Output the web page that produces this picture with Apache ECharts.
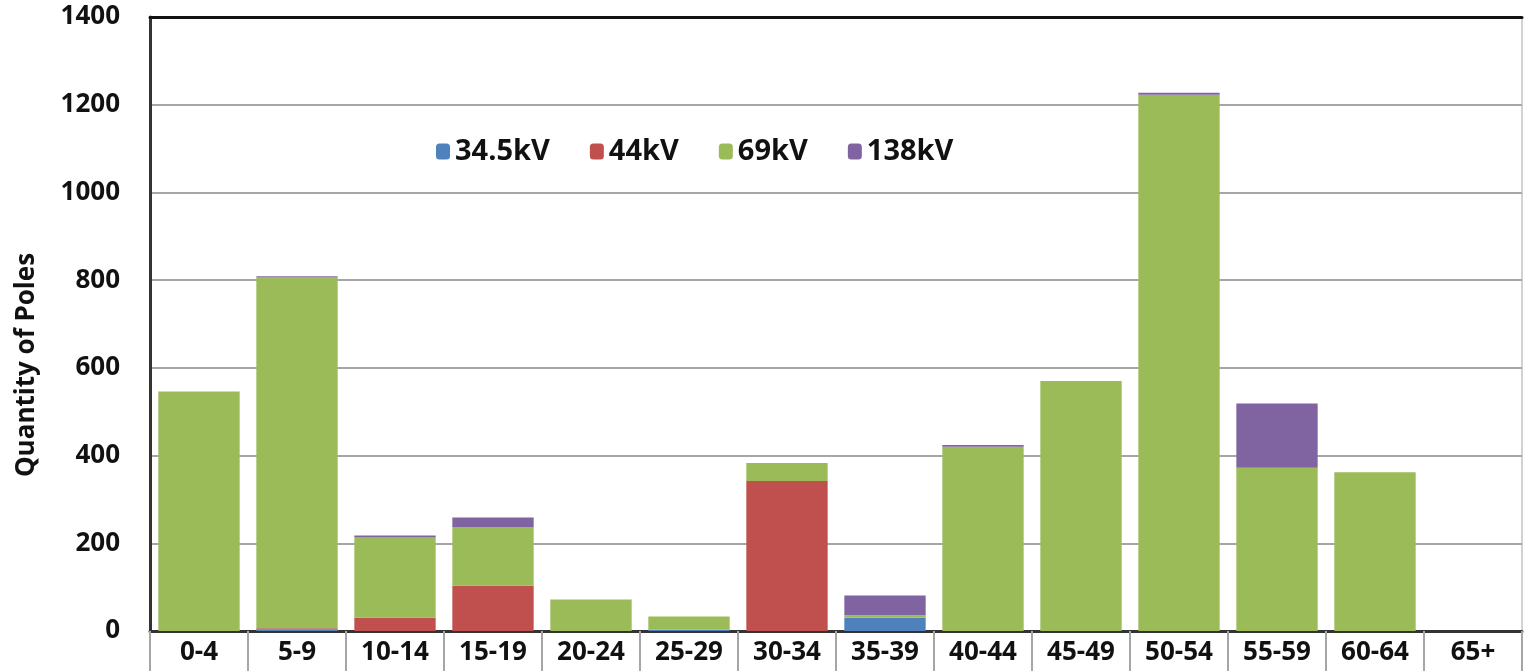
<!DOCTYPE html>
<html>
<head>
<meta charset="utf-8">
<script src="https://cdn.jsdelivr.net/npm/echarts@6/dist/echarts.min.js"></script>
<style>
    html, body { margin: 0; padding: 0; background: #fff; }
    #chart { width: 1524px; height: 671px; }
</style>
</head>
<body>
<div id="chart"></div>
<script>
// age bands (years)
const categories = ['0-4', '5-9', '10-14', '15-19', '20-24', '25-29', '30-34', '35-39', '40-44', '45-49', '50-54', '55-59', '60-64', '65+'];

// pole counts per voltage class
const kv345 = [0, 4, 0, 0, 0, 3, 0, 30, 0, 0, 0, 0, 0, 0];
const kv44 = [0, 2, 30, 103, 0, 0, 342, 0, 0, 0, 0, 0, 0, 0];
const kv69 = [546, 801, 183, 134, 72, 30, 41, 6, 420, 570, 1223, 372, 362, 0];
const kv138 = [0, 2, 5, 22, 0, 0, 0, 45, 4, 0, 4, 147, 0, 0];

const seriesNames = ['34.5kV', '44kV', '69kV', '138kV'];
const seriesColors = ['#4F81BD', '#C0504D', '#9BBB59', '#8064A2'];

const font = '"Open Sans", "Noto Sans", sans-serif';

const chart = echarts.init(document.getElementById('chart'), null, { renderer: 'canvas' });

function makeSeries(name, data, color) {
    return {
        name: name,
        type: 'bar',
        stack: 'total',
        data: data,
        barCategoryGap: '17%',
        itemStyle: { color: color }
    };
}

const options = {
    animation: false,
    backgroundColor: '#fff',
    grid: {
        left: 150,
        right: 2,
        top: 17,
        bottom: 40,
        show: true,
        borderColor: '#a6a6a6',
        borderWidth: 1
    },
    legend: {
        data: seriesNames,
        left: 431,
        top: 132,
        itemWidth: 14,
        itemHeight: 16,
        itemGap: 40,
        textStyle: {
            fontFamily: font,
            fontWeight: 'bold',
            fontSize: 29,
            color: '#111'
        }
    },
    xAxis: [{
        type: 'category',
        data: categories,
        axisLine: {
            lineStyle: { color: '#333', width: 3 }
        },
        axisTick: {
            show: true,
            interval: 0,
            length: 40,
            lineStyle: { color: '#a6a6a6', width: 2 }
        },
        axisLabel: {
            interval: 0,
            margin: 9,
            fontFamily: font,
            fontWeight: 'bold',
            fontSize: 26,
            color: '#111'
        }
    }, {
        type: 'category',
        data: categories,
        position: 'top',
        axisLine: {
            lineStyle: { color: '#111', width: 3 }
        },
        axisTick: { show: false },
        axisLabel: { show: false }
    }],
    yAxis: {
        type: 'value',
        min: 0,
        max: 1400,
        interval: 200,
        name: 'Quantity of Poles',
        nameLocation: 'middle',
        nameGap: 110,
        nameTextStyle: {
            fontFamily: font,
            fontWeight: 'bold',
            fontSize: 26,
            color: '#111',
            padding: [0, 82, 0, 0]
        },
        axisLine: {
            show: true,
            lineStyle: { color: '#333', width: 3 }
        },
        axisTick: { show: false },
        splitLine: {
            lineStyle: { color: '#a6a6a6', width: 2 }
        },
        axisLabel: {
            margin: 30,
            fontFamily: font,
            fontWeight: 'bold',
            fontSize: 26,
            color: '#111',
            formatter: function (v) { return String(v); }
        }
    },
    series: [
        makeSeries(seriesNames[0], kv345, seriesColors[0]),
        makeSeries(seriesNames[1], kv44, seriesColors[1]),
        makeSeries(seriesNames[2], kv69, seriesColors[2]),
        makeSeries(seriesNames[3], kv138, seriesColors[3])
    ]
};

chart.setOption(options);
</script>
</body>
</html>
